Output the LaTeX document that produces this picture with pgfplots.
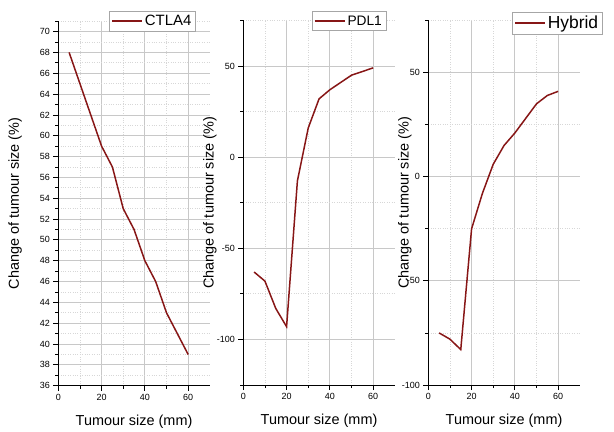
\documentclass[border=0pt]{standalone}
\usepackage{fontspec}
\setmainfont{Liberation Sans}
\setsansfont{Liberation Sans}
\usepackage{pgfplots}
\pgfplotsset{compat=1.18}
\definecolor{wine}{RGB}{135,22,22}
\definecolor{gmaj}{RGB}{200,200,200}
\definecolor{gmin}{RGB}{215,215,215}
\pgfplotsset{
  panel/.style={
    scale only axis, width=151.5bp, height=364.5bp,
    axis lines*=left,
    axis line style={black, line width=1pt},
    xmin=0, xmax=70, xtick={0,20,40,60}, minor xtick={10,30,50},
    tick align=outside,
    major tick length=5bp, minor tick length=3bp,
    tick style={black, line width=0.8pt},
    grid=both,
    major grid style={gmaj, line width=0.8pt},
    minor grid style={gmin, dotted, line width=0.8pt},
    ticklabel style={font=\fontsize{9}{10}\selectfont},
    /pgf/number format/assume math mode=true,
    xlabel={Tumour size (mm)},
    ylabel={Change of tumour size (\%)},
    label style={font=\fontsize{14.5}{16}\selectfont},
    xlabel style={at={(axis description cs:0.5,-0.099)}, anchor=center},
    legend cell align=left,
    legend style={draw=gray!70, fill=white, line width=0.6pt, inner xsep=2pt, inner ysep=2pt},
    legend image code/.code={\draw[wine, line width=1.6pt] (0bp,0bp) -- (30bp,0bp);},
  },
}
\begin{document}
\begin{tikzpicture}
\path[use as bounding box] (0,0) rectangle (614bp,432bp);
% Panel 1
\begin{axis}[panel, at={(58.3bp,46.3bp)}, anchor=south west,
  ymin=36, ymax=71, ytick={36,38,...,70}, minor ytick={37,39,...,71},
  ylabel style={at={(axis description cs:-0.285,0.5)}, anchor=center},
  legend style={at={(axis description cs:0.335,1.029)}, anchor=north west, font=\fontsize{15}{17}\selectfont},
]
\addplot[wine, line width=1.5pt] coordinates {
(5,68) (10,65) (15,62) (20,59) (25,57) (30,53) (35,51) (40,48) (45,46) (50,43) (55,41) (60,39)};
\addlegendentry{CTLA4}
\end{axis}
% Panel 2
\begin{axis}[panel, at={(243.3bp,47bp)}, anchor=south west,
  ymin=-125, ymax=75, ytick={-100,-50,0,50}, minor ytick={-125,-75,-25,25,75},
  ylabel style={at={(axis description cs:-0.22,0.5)}, anchor=center},
  legend style={at={(axis description cs:0.451,1.025)}, anchor=north west, font=\fontsize{13.8}{15}\selectfont},
]
\addplot[wine, line width=1.5pt] coordinates {
(5,-63) (10,-68) (15,-83) (20,-93) (25,-13) (30,16) (35,32) (40,37) (45,41) (50,45) (55,47) (60,49)};
\addlegendentry{PDL1}
\end{axis}
% Panel 3
\begin{axis}[panel, at={(428.3bp,47bp)}, anchor=south west,
  ymin=-100, ymax=75, ytick={-100,-50,0,50}, minor ytick={-75,-25,25,75},
  ylabel style={at={(axis description cs:-0.155,0.5)}, anchor=center},
  legend style={at={(axis description cs:0.552,1.024)}, anchor=north west, font=\fontsize{17.5}{19}\selectfont},
]
\addplot[wine, line width=1.5pt] coordinates {
(5,-75) (10,-78) (15,-83) (20,-25) (25,-8) (30,6) (35,15) (40,21) (45,28) (50,35) (55,39) (60,41)};
\addlegendentry{Hybrid}
\end{axis}
\end{tikzpicture}
\end{document}
